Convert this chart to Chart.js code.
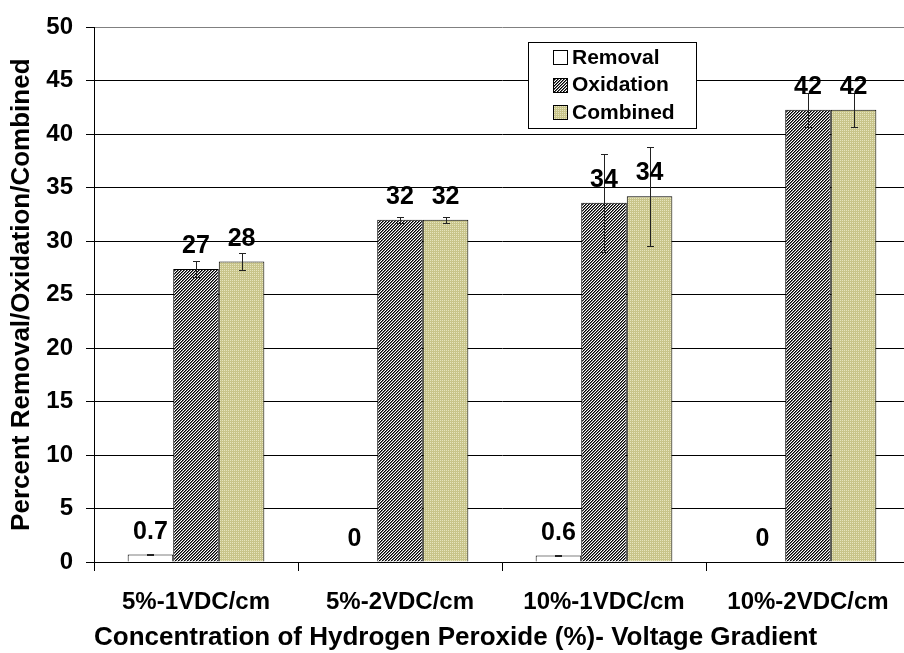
<!DOCTYPE html>
<html>
<head>
<meta charset="utf-8">
<script src="https://cdn.jsdelivr.net/npm/chart.js@4"></script>
<style>
  html, body { margin: 0; padding: 0; background: #fff; overflow: hidden; }
  #wrap { width: 910px; height: 653px; }
</style>
</head>
<body>
<div id="wrap"><canvas id="chart" width="910" height="653"></canvas></div>
<script>
const categories = ['5%-1VDC/cm', '5%-2VDC/cm', '10%-1VDC/cm', '10%-2VDC/cm'];
const seriesNames = ['Removal', 'Oxidation', 'Combined'];
const removal = [0.7, 0, 0.6, 0];
const oxidation = [27.4, 32.0, 33.6, 42.3];
const combined = [28.1, 32.0, 34.2, 42.3];
const removalErr = [0.05, 0, 0.05, 0];
const oxidationErr = [0.75, 0.3, 4.6, 1.6];
const combinedErr = [0.8, 0.3, 4.6, 1.6];
const yTicks = [0, 5, 10, 15, 20, 25, 30, 35, 40, 45, 50];

const FONT = '"Liberation Sans", Arial, sans-serif';
Chart.defaults.font.family = FONT;
Chart.defaults.color = '#000';

/* ===== fill patterns ===== */
function makePattern(size, draw) {
    const c = document.createElement('canvas');
    c.width = size; c.height = size;
    draw(c.getContext('2d'));
    return document.getElementById('chart').getContext('2d').createPattern(c, 'repeat');
}
const hatch = makePattern(3, g => {
    const shades = ['#000', '#6a6a6a', '#fff'];
    for (let x = 0; x < 3; x++)
        for (let y = 0; y < 3; y++) {
            g.fillStyle = shades[(x + y) % 3];
            g.fillRect(x, y, 1, 1);
        }
});
const dots = makePattern(2, g => {
    g.fillStyle = '#c8c48a';
    g.fillRect(0, 0, 2, 2);
    g.fillStyle = '#e6e4bf';
    g.fillRect(0, 0, 1, 1);
});

const errors = [removalErr, oxidationErr, combinedErr];

function fmt(v) {
    if (v === 0) return '0';
    return v >= 1 ? String(Math.round(v)) : v.toFixed(1);
}

/* ===== error bars + value labels ===== */
const extras = {
    id: 'extras',
    afterDatasetsDraw(chart) {
        const ctx = chart.ctx;
        const y = chart.scales.y;
        ctx.save();
        ctx.strokeStyle = '#222';
        ctx.lineWidth = 1;
        chart.data.datasets.forEach((ds, i) => {
            chart.getDatasetMeta(i).data.forEach((bar, j) => {
                const e = errors[i][j];
                if (!e) return;
                const v = ds.data[j];
                const x = Math.round(bar.x) + 0.5;
                const t = Math.round(y.getPixelForValue(v + e)) + 0.5;
                const b = Math.round(y.getPixelForValue(v - e)) + 0.5;
                ctx.beginPath();
                ctx.moveTo(x, t); ctx.lineTo(x, b);
                ctx.moveTo(x - 3.5, t); ctx.lineTo(x + 3.5, t);
                ctx.moveTo(x - 3.5, b); ctx.lineTo(x + 3.5, b);
                ctx.stroke();
            });
        });
        ctx.font = 'bold 25px ' + FONT;
        ctx.fillStyle = '#000';
        ctx.textAlign = 'center';
        ctx.textBaseline = 'alphabetic';
        chart.data.datasets.forEach((ds, i) => {
            chart.getDatasetMeta(i).data.forEach((bar, j) => {
                ctx.fillText(fmt(ds.data[j]), bar.x, bar.y - 16);
            });
        });
        ctx.restore();
    },
    afterDraw(chart) {
        // legend box inside the plot
        const ctx = chart.ctx;
        ctx.save();
        ctx.fillStyle = '#fff';
        ctx.fillRect(528, 42, 168, 86);
        ctx.strokeStyle = '#000';
        ctx.lineWidth = 1;
        ctx.strokeRect(528.5, 42.5, 168, 86);
        ctx.font = 'bold 21px ' + FONT;
        ctx.textBaseline = 'middle';
        ctx.textAlign = 'left';
        chart.data.datasets.forEach((ds, i) => {
            const cy = 57 + i * 27.5;
            ctx.fillStyle = ds.backgroundColor;
            ctx.fillRect(553, Math.round(cy - 7), 14, 14);
            ctx.strokeRect(553.5, Math.round(cy - 7) + 0.5, 14, 14);
            ctx.fillStyle = '#000';
            ctx.fillText(ds.label, 572, cy + 1);
        });
        ctx.restore();
    }
};

new Chart(document.getElementById('chart'), {
    type: 'bar',
    data: {
        labels: categories,
        datasets: [
            { label: seriesNames[0], data: removal, backgroundColor: '#fff', borderColor: '#000', borderWidth: 1 },
            { label: seriesNames[1], data: oxidation, backgroundColor: hatch, borderColor: '#000', borderWidth: 1 },
            { label: seriesNames[2], data: combined, backgroundColor: dots, borderColor: '#000', borderWidth: 1 }
        ]
    },
    options: {
        responsive: false,
        animation: false,
        categoryPercentage: 0.67,
        barPercentage: 1,
        layout: { padding: { top: 24, left: 0, right: 0, bottom: 0 } },
        plugins: { legend: { display: false }, tooltip: { enabled: false } },
        scales: {
            x: {
                grid: { display: true, drawOnChartArea: false, drawTicks: true, tickLength: 9, color: '#000', offset: true },
                border: { color: '#000' },
                ticks: { font: { size: 24, weight: 'bold' }, color: '#000', padding: 17, maxRotation: 0, autoSkip: false },
                title: {
                    display: true,
                    align: 'start',
                    text: 'Concentration of Hydrogen Peroxide (%)- Voltage Gradient',
                    font: { size: 26, weight: 'bold' },
                    color: '#000',
                    padding: { top: 0, bottom: 0 }
                },
                afterFit: s => { s.height = 91; }
            },
            y: {
                min: 0,
                max: 50,
                afterBuildTicks: s => { s.ticks = yTicks.map(v => ({ value: v })); },
                grid: {
                    color: c => (c.tick && c.tick.value === 50 ? '#808080' : '#000'),
                    tickColor: '#000',
                    tickLength: 8
                },
                border: { color: '#000' },
                ticks: { font: { size: 24, weight: 'bold' }, color: '#000', padding: 13 },
                title: {
                    display: true,
                    text: 'Percent Removal/Oxidation/Combined',
                    font: { size: 26, weight: 'bold' },
                    color: '#000',
                    padding: { top: 6, bottom: 0 }
                },
                afterFit: s => { s.width = 94; }
            }
        }
    },
    plugins: [extras]
});
</script>
</body>
</html>
